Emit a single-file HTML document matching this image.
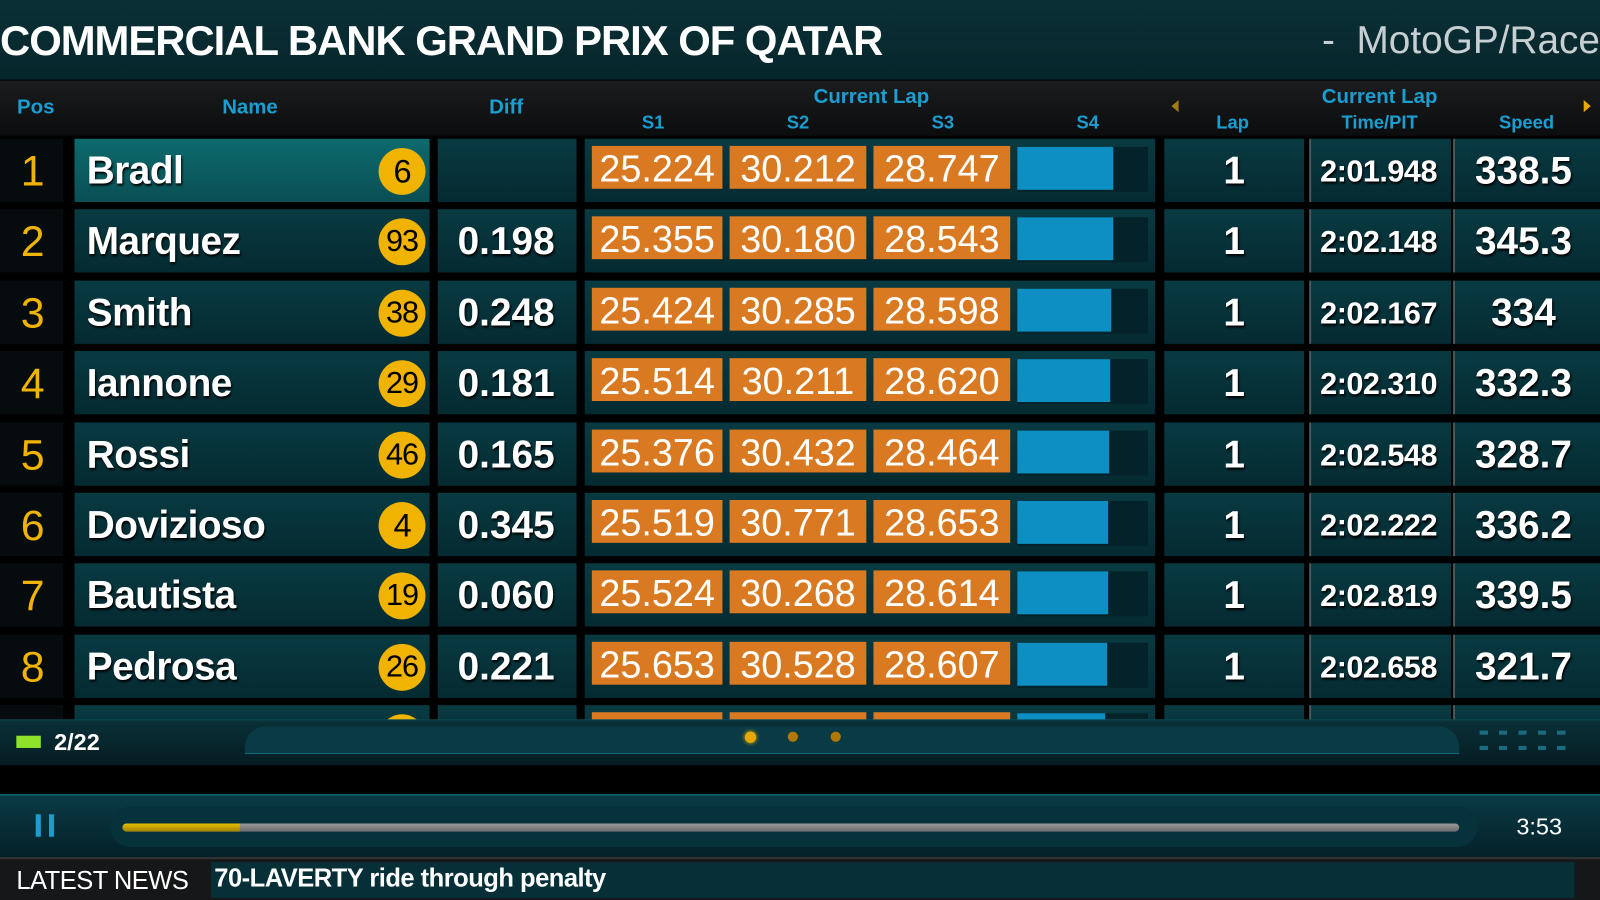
<!DOCTYPE html>
<html><head><meta charset="utf-8"><style>
html,body{margin:0;padding:0;background:#000;width:1600px;height:900px;overflow:hidden}
#w{position:absolute;left:0;top:0;width:1568px;height:882px;transform:scale(1.020408);transform-origin:0 0;font-family:"Liberation Sans",sans-serif;background:#000;overflow:hidden}
.a{position:absolute}
.t{font-family:"Liberation Sans",sans-serif;}
.hd{color:#1a9ed2;font-weight:bold;font-size:20px;text-align:center}
.cell{position:absolute;background:linear-gradient(#083a42,#052a31)}
.num{color:#fff;font-weight:bold;font-size:38px;position:absolute;text-shadow:1px 2px 2px #000}
.or{position:absolute;background:#d97a22;color:#fff;font-size:37px;text-align:center;line-height:46px;height:42px;overflow:hidden}
.bl{position:absolute;background:#0d8fc3;height:42px}
#rc{position:absolute;left:0;top:0;width:1568px;height:705px;overflow:hidden}
</style></head><body><div id="w">
<div class="a" style="left:0;top:0;width:1568px;height:78px;background:linear-gradient(#0a3036,#06262b)"></div>
<div class="a t" style="left:0;top:17px;color:#fff;font-weight:bold;font-size:41px;letter-spacing:-1px">COMMERCIAL BANK GRAND PRIX OF QATAR</div>
<div class="a t" style="right:0;top:19px;color:#c8cfd2;font-size:38px">-&nbsp; MotoGP/Race</div>
<div class="a" style="left:0;top:79px;width:1568px;height:54px;background:linear-gradient(#1a1c1d,#0c0d0e)"></div>
<div class="a hd t" style="left:10px;top:94px;width:50px">Pos</div>
<div class="a hd t" style="left:195px;top:94px;width:100px">Name</div>
<div class="a hd t" style="left:456px;top:94px;width:80px">Diff</div>
<div class="a hd t" style="left:754px;top:84px;width:200px">Current Lap</div>
<div class="a hd t" style="left:620px;top:110px;width:40px;font-size:18px">S1</div>
<div class="a hd t" style="left:762px;top:110px;width:40px;font-size:18px">S2</div>
<div class="a hd t" style="left:904px;top:110px;width:40px;font-size:18px">S3</div>
<div class="a hd t" style="left:1046px;top:110px;width:40px;font-size:18px">S4</div>
<div class="a" style="left:1148px;top:98px;width:0;height:0;border-top:6px solid transparent;border-bottom:6px solid transparent;border-right:7px solid #a07c10"></div>
<div class="a hd t" style="left:1178px;top:110px;width:60px;font-size:18px">Lap</div>
<div class="a hd t" style="left:1252px;top:84px;width:200px">Current Lap</div>
<div class="a hd t" style="left:1292px;top:110px;width:120px;font-size:18px">Time/PIT</div>
<div class="a hd t" style="left:1456px;top:110px;width:80px;font-size:18px">Speed</div>
<div class="a" style="left:1552px;top:98px;width:0;height:0;border-top:6px solid transparent;border-bottom:6px solid transparent;border-left:7px solid #e8a800"></div>
<div id="rc"><div id="rows"></div></div>
<!-- bottom panel -->
<div class="a" style="left:0;top:705px;width:1568px;height:45px;background:linear-gradient(#0a3038,#051c22);border-top:1px solid #0d5560"></div>
<div class="a" style="left:240px;top:712px;width:1190px;height:26px;background:#0a3a44;border-radius:20px 20px 0 0;border-bottom:1px solid #0e6b78"></div>
<div class="a" style="left:16px;top:721px;width:24px;height:12px;background:#8ee22a"></div>
<div class="a t" style="left:53px;top:714px;color:#fff;font-weight:bold;font-size:23px">2/22</div>
<div class="a" style="left:730px;top:717px;width:11px;height:11px;border-radius:50%;background:#e8a800;box-shadow:0 0 4px #f0c000"></div>
<div class="a" style="left:772px;top:717px;width:10px;height:10px;border-radius:50%;background:#b07800"></div>
<div class="a" style="left:814px;top:717px;width:10px;height:10px;border-radius:50%;background:#b07800"></div>
<div class="a" style="left:1450px;top:716px;width:92px;height:4px;background:repeating-linear-gradient(90deg,#1a6b80 0 8px,transparent 8px 19px)"></div>
<div class="a" style="left:1450px;top:731px;width:92px;height:4px;background:repeating-linear-gradient(90deg,#1a6b80 0 8px,transparent 8px 19px)"></div>
<div class="a" style="left:0;top:750px;width:1568px;height:28px;background:#000"></div>
<div class="a" style="left:0;top:778px;width:1568px;height:62px;background:linear-gradient(#0a3a44,#042028);border-top:2px solid #0d5a68"></div>
<div class="a" style="left:108px;top:790px;width:1340px;height:40px;background:#06323b;border-radius:30px"></div>
<div class="a" style="left:35px;top:798px;width:5px;height:22px;background:#1a9ed2"></div>
<div class="a" style="left:48px;top:798px;width:5px;height:22px;background:#1a9ed2"></div>
<div class="a" style="left:120px;top:807px;width:1310px;height:8px;background:linear-gradient(#9a9a9a,#6a6a6a);border-radius:4px"></div>
<div class="a" style="left:120px;top:807px;width:115px;height:8px;background:linear-gradient(#e8c000,#a08000);border-radius:4px 0 0 4px"></div>
<div class="a t" style="left:1486px;top:797px;color:#fff;font-size:23px">3:53</div>
<div class="a" style="left:0;top:840px;width:1568px;height:42px;background:#151718;border-top:2px solid #333"></div>
<div class="a" style="left:207px;top:845px;width:1336px;height:35px;background:#062f38"></div>
<div class="a t" style="left:16px;top:849px;color:#fff;font-size:25px;letter-spacing:-0.5px">LATEST NEWS</div>
<div class="a t" style="left:210px;top:847px;color:#fff;font-weight:bold;font-size:25px;letter-spacing:-0.5px">70-LAVERTY ride through penalty</div>
</div>
<script>
var d=[["Bradl","6","","25.224","30.212","28.747",94,"2:01.948","338.5"],
["Marquez","93","0.198","25.355","30.180","28.543",94,"2:02.148","345.3"],
["Smith","38","0.248","25.424","30.285","28.598",92,"2:02.167","334"],
["Iannone","29","0.181","25.514","30.211","28.620",91,"2:02.310","332.3"],
["Rossi","46","0.165","25.376","30.432","28.464",90,"2:02.548","328.7"],
["Dovizioso","4","0.345","25.519","30.771","28.653",89,"2:02.222","336.2"],
["Bautista","19","0.060","25.524","30.268","28.614",89,"2:02.819","339.5"],
["Pedrosa","26","0.221","25.653","30.528","28.607",88,"2:02.658","321.7"],
["","","","","","",86,"",""]];
var h="";
d.forEach(function(r,i){var y=136+i*69.4,H=62;
h+='<div class="a" style="left:0;top:'+y+'px;width:62px;height:'+H+'px;background:#060c0e"></div>';
if(r[0]){h+='<div class="a t" style="left:0;top:'+(y+8)+'px;width:64px;text-align:center;color:#f0b400;font-size:42px">'+(i+1)+'</div>';}
h+='<div class="cell" style="left:73px;top:'+y+'px;width:348px;height:'+H+'px;'+(i==0?'background:linear-gradient(#0d6a6c,#0a4f55)':'')+'"></div>';
if(r[0]){h+='<div class="num t" style="left:85px;top:'+(y+11)+'px;letter-spacing:-0.5px">'+r[0]+'</div>';}
if(i<9)h+='<div class="a t" style="left:371px;top:'+(y+9)+'px;width:46px;height:46px;border-radius:50%;background:#efb300;color:#000;font-size:'+(r[1].length>1?30:32)+'px;text-align:center;line-height:46px;letter-spacing:-1px">'+r[1]+'</div>';
h+='<div class="cell" style="left:429px;top:'+y+'px;width:136px;height:'+H+'px"></div>';
if(r[2])h+='<div class="num t" style="left:429px;width:134px;text-align:center;top:'+(y+11)+'px">'+r[2]+'</div>';
h+='<div class="cell" style="left:573px;top:'+y+'px;width:559px;height:'+H+'px"></div>';
h+='<div class="a" style="left:997px;top:'+(y+8)+'px;width:128px;height:44px;background:#03222a"></div>';
var x=[580,715,856],w=[128,134,134];
for(var k=0;k<3;k++)h+='<div class="or t" style="left:'+x[k]+'px;top:'+(y+7)+'px;width:'+w[k]+'px">'+r[3+k]+'</div>';
h+='<div class="bl" style="left:997px;top:'+(y+8)+'px;width:'+r[6]+'px"></div>';
h+='<div class="cell" style="left:1141px;top:'+y+'px;width:137px;height:'+H+'px"></div>';
h+='<div class="cell" style="left:1283px;top:'+y+'px;width:137px;height:'+H+'px;border-left:2px solid #4a5a5c"></div>';
h+='<div class="cell" style="left:1424px;top:'+y+'px;width:144px;height:'+H+'px;border-left:2px solid #4a5a5c"></div>';
if(r[0]){h+='<div class="num t" style="left:1141px;width:137px;text-align:center;top:'+(y+11)+'px">1</div>';
h+='<div class="num t" style="left:1284px;width:134px;text-align:center;top:'+(y+16)+'px;font-size:30px;letter-spacing:-0.5px">'+r[7]+'</div>';
h+='<div class="num t" style="left:1426px;width:134px;text-align:center;top:'+(y+11)+'px">'+r[8]+'</div>';}
});
document.getElementById('rows').outerHTML=h;
</script>
</body></html>
